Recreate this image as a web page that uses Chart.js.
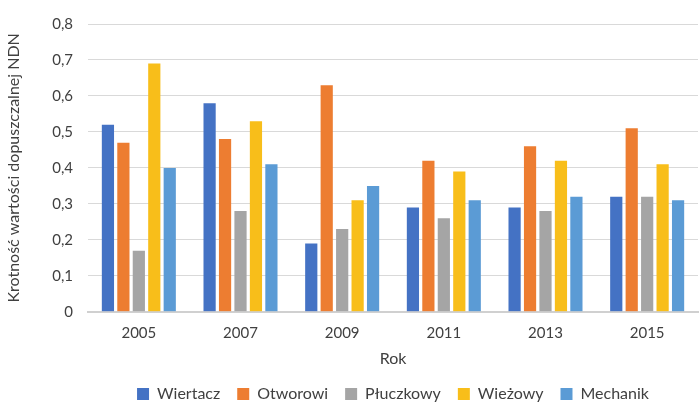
<!DOCTYPE html>
<html>
<head>
<meta charset="utf-8">
<script src="https://cdn.jsdelivr.net/npm/chart.js@4"></script>
<style>
  html, body { margin: 0; padding: 0; background: #fff; }
  #wrap { width: 700px; height: 403px; position: relative; }
</style>
</head>
<body>
<div id="wrap"><canvas id="c"></canvas></div>
<script>
const years = ['2005', '2007', '2009', '2011', '2013', '2015'];
const wiertacz   = [0.52, 0.58, 0.19, 0.29, 0.29, 0.32];
const otworowi   = [0.47, 0.48, 0.63, 0.42, 0.46, 0.51];
const pluczkowy  = [0.17, 0.28, 0.23, 0.26, 0.28, 0.32];
const wiezowy    = [0.69, 0.53, 0.31, 0.39, 0.42, 0.41];
const mechanik   = [0.40, 0.41, 0.35, 0.31, 0.32, 0.31];
const seriesNames = ['Wiertacz', 'Otworowi', 'Płuczkowy', 'Wieżowy', 'Mechanik'];
const colors = ['#4472C4', '#ED7D31', '#A5A5A5', '#F8BE1A', '#5B9BD5'];
const FONT = 'Lato';

const seriesData = [wiertacz, otworowi, pluczkowy, wiezowy, mechanik];
const datasets = seriesNames.map((name, i) => ({
  label: name,
  data: seriesData[i],
  backgroundColor: colors[i],
  borderWidth: 0,
  categoryPercentage: 0.76,
  barPercentage: 0.79
}));

const LEGEND_PAD = 17;
// keep the legend row low under the axis title, independent of its item spacing
const legendRow = {
  id: 'legendRow',
  afterLayout(chart) {
    const lg = chart.legend;
    if (!lg) return;
    lg.top = 393 - LEGEND_PAD - 7;
    lg.bottom = chart.height;
    lg.height = lg.bottom - lg.top;
  }
};

new Chart(document.getElementById('c'), {
  type: 'bar',
  data: { labels: years, datasets },
  plugins: [legendRow],
  options: {
    responsive: true,
    maintainAspectRatio: false,
    animation: false,
    layout: { padding: { left: 4, right: 2, top: 1, bottom: 0 } },
    plugins: {
      tooltip: { enabled: false },
      legend: {
        position: 'bottom',
        fullSize: false,
        maxHeight: 22,
        labels: {
          font: { family: FONT, size: 16 },
          color: '#404040',
          boxWidth: 12,
          boxHeight: 12,
          padding: LEGEND_PAD
        }
      }
    },
    scales: {
      x: {
        grid: { display: false, drawTicks: false },
        border: { display: true, color: '#d0d0d0', width: 2 },
        ticks: { font: { family: FONT, size: 15 }, color: '#404040', padding: 12 },
        title: { display: true, text: 'Rok', font: { family: FONT, size: 16 }, color: '#404040', padding: { top: -5, bottom: 13 } }
      },
      y: {
        min: 0,
        max: 0.8,
        ticks: {
          stepSize: 0.1,
          font: { family: FONT, size: 15 },
          color: '#404040',
          padding: 15,
          callback: v => v === 0 ? '0' : v.toFixed(1).replace('.', ',')
        },
        grid: { color: '#d9d9d9', lineWidth: 1, drawTicks: false },
        border: { display: false },
        title: { display: true, text: 'Krotność wartości dopuszczalnej NDN', font: { family: FONT, size: 16 }, color: '#404040', padding: { top: 0, bottom: 14 } }
      }
    }
  }
});
</script>
</body>
</html>
